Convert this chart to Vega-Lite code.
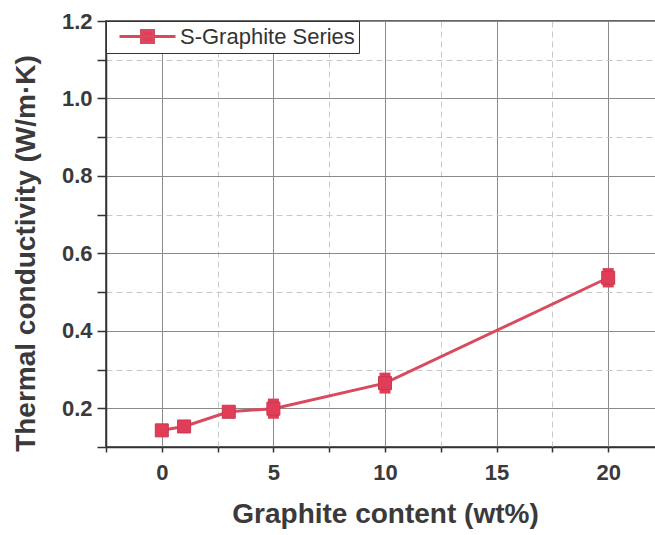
{
  "$schema": "https://vega.github.io/schema/vega-lite/v6.json",
  "width": 558,
  "height": 426,
  "autosize": {"type": "none"},
  "padding": {"left": 106, "top": 21, "right": 0, "bottom": 88},
  "background": "white",
  "config": {
    "view": {"stroke": "#333333", "strokeWidth": 1.5},
    "font": "Liberation Sans"
  },
  "data": {
    "values": [
      {"x": 0, "y": 0.143, "lo": 0.143, "hi": 0.143, "series": "S-Graphite Series"},
      {"x": 1, "y": 0.153, "lo": 0.153, "hi": 0.153, "series": "S-Graphite Series"},
      {"x": 3, "y": 0.191, "lo": 0.191, "hi": 0.191, "series": "S-Graphite Series"},
      {"x": 5, "y": 0.199, "lo": 0.173, "hi": 0.225, "series": "S-Graphite Series"},
      {"x": 10, "y": 0.265, "lo": 0.238, "hi": 0.292, "series": "S-Graphite Series"},
      {"x": 20, "y": 0.537, "lo": 0.512, "hi": 0.562, "series": "S-Graphite Series"}
    ]
  },
  "encoding": {
    "x": {
      "field": "x", "type": "quantitative",
      "title": "Graphite content (wt%)",
      "scale": {"domain": [-2.5, 22.5], "nice": false, "zero": false},
      "axis": {
        "values": [-2.5, 0, 2.5, 5, 7.5, 10, 12.5, 15, 17.5, 20],
        "labelExpr": "datum.value % 5 === 0 ? datum.value : ''",
        "grid": true,
        "gridColor": {"condition": {"test": "datum.value % 5 !== 0", "value": "#c8c8c8"}, "value": "#8a8a8a"},
        "gridDash": {"condition": {"test": "datum.value % 5 !== 0", "value": [6, 4]}, "value": []},
        "gridWidth": 1,
        "domainColor": "#333333", "domainWidth": 1.5,
        "tickColor": "#333333", "tickWidth": 1.5, "tickSize": 5,
        "labelFont": "Liberation Sans", "labelFontSize": 22, "labelFontWeight": "bold", "labelColor": "#3a3a3a",
        "labelPadding": 10,
        "titleFont": "Liberation Sans", "titleFontSize": 28, "titleFontWeight": "bold", "titleColor": "#3a3a3a",
        "titlePadding": 17
      }
    },
    "y": {
      "field": "y", "type": "quantitative",
      "title": "Thermal conductivity (W/m·K)",
      "scale": {"domain": [0.1, 1.2], "nice": false, "zero": false},
      "axis": {
        "values": [0.1, 0.2, 0.3, 0.4, 0.5, 0.6, 0.7, 0.8, 0.9, 1.0, 1.1, 1.2],
        "labelExpr": "round(datum.value*10) % 2 === 1 ? '' : format(datum.value, '.1f')",
        "grid": true,
        "gridColor": {"condition": {"test": "round(datum.value*10) % 2 === 1", "value": "#c8c8c8"}, "value": "#8a8a8a"},
        "gridDash": {"condition": {"test": "round(datum.value*10) % 2 === 1", "value": [6, 4]}, "value": []},
        "gridWidth": 1,
        "domainColor": "#333333", "domainWidth": 1.5,
        "tickColor": "#333333", "tickWidth": 1.5, "tickSize": 9,
        "labelFont": "Liberation Sans", "labelFontSize": 22, "labelFontWeight": "bold", "labelColor": "#3a3a3a",
        "labelPadding": 5,
        "titleFont": "Liberation Sans", "titleFontSize": 28, "titleFontWeight": "bold", "titleColor": "#3a3a3a",
        "titleX": -66,
        "titleY": 232
      }
    }
  },
  "layer": [
    {
      "mark": {"type": "line", "strokeWidth": 3, "color": "#d84a5e"},
      "encoding": {
        "color": {
          "field": "series", "type": "nominal",
          "scale": {"range": ["#d84a5e"]},
          "legend": {
            "title": null,
            "orient": "top-left",
            "offset": 0,
            "padding": 4,
            "strokeColor": "#333333",
            "fillColor": "white",
            "symbolType": "M-2.8,0H2.8M-0.6,-0.6H0.6V0.6H-0.6Z",
            "symbolSize": 400,
            "symbolStrokeWidth": 3,
            "symbolFillColor": "#e23d58",
            "symbolStrokeColor": "#d84a5e",
            "symbolOffset": 26,
            "labelOffset": 21,
            "labelLimit": 400,
            "labelFont": "Liberation Sans",
            "labelFontSize": 22,
            "labelFontWeight": "normal",
            "labelColor": "#333333"
          }
        }
      }
    },
    {
      "transform": [{"filter": "datum.hi > datum.lo"}],
      "mark": {"type": "rule", "strokeWidth": 11, "color": "#e23d58", "strokeCap": "butt"},
      "encoding": {
        "y": {"field": "lo", "type": "quantitative", "title": "Thermal conductivity (W/m·K)", "scale": {"domain": [0.1, 1.2], "nice": false, "zero": false}},
        "y2": {"field": "hi"}
      }
    },
    {
      "mark": {"type": "square", "size": 169, "filled": true, "color": "#e23d58", "stroke": "#c9384f", "strokeWidth": 1, "opacity": 1}
    }
  ]
}
